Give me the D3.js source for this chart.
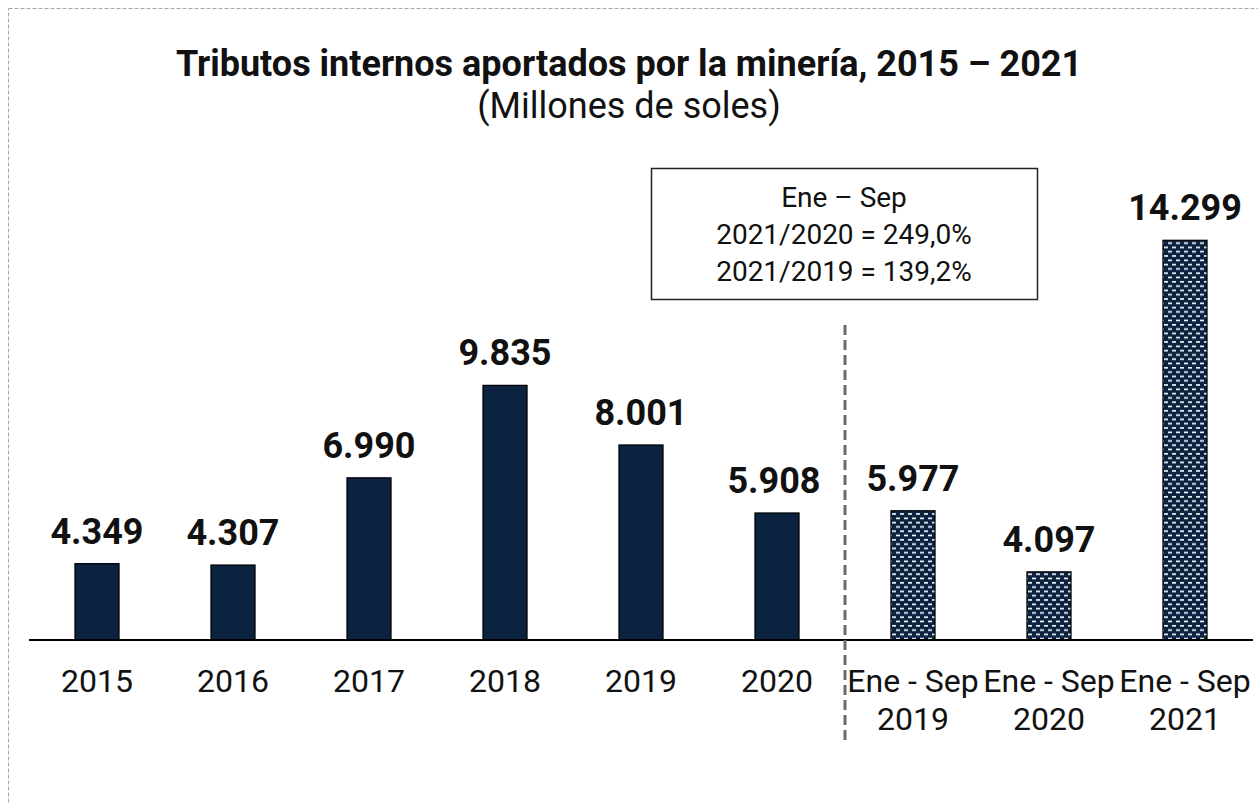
<!DOCTYPE html>
<html>
<head>
<meta charset="utf-8">
<script src="https://cdn.jsdelivr.net/npm/d3@7"></script>
<style>
  body { margin: 0; background: #fff; }
  svg { font-family: Roboto, sans-serif; }
</style>
</head>
<body>
<div id="chart"></div>
<script>
var width = 1258
var height = 803

// data
var categories = ['2015', '2016', '2017', '2018', '2019', '2020', 'Ene - Sep|2019', 'Ene - Sep|2020', 'Ene - Sep|2021']
var values = [4349, 4307, 6990, 9835, 8001, 5908, 5977, 4097, 14299]
var valueLabels = ['4.349', '4.307', '6.990', '9.835', '8.001', '5.908', '5.977', '4.097', '14.299']
var partialYear = [false, false, false, false, false, false, true, true, true]
var noteLines = ['Ene – Sep', '2021/2020 = 249,0%', '2021/2019 = 139,2%']

var navy = '#0b2240'

var svg = d3.select('#chart')
  .append('svg')
  .attr('width', width)
  .attr('height', height)

// hatch pattern for the Ene-Sep bars
var pat = svg.append('defs')
  .append('pattern')
  .attr('id', 'brick')
  .attr('patternUnits', 'userSpaceOnUse')
  .attr('width', 8)
  .attr('height', 8.6)
pat.append('rect').attr('width', 8).attr('height', 8.6).attr('fill', navy)
pat.append('rect').attr('x', 0).attr('y', 1.5).attr('width', 4).attr('height', 1.6).attr('fill', '#fff')
pat.append('rect').attr('x', 4).attr('y', 5.8).attr('width', 4).attr('height', 1.6).attr('fill', '#fff')

// outer dashed frame
svg.append('rect')
  .attr('x', 8.5)
  .attr('y', 8.5)
  .attr('width', width + 20)
  .attr('height', height + 20)
  .attr('fill', 'none')
  .style('stroke', '#a6a6a6')
  .style('stroke-width', 1)
  .style('stroke-dasharray', '4,2')

// titles
svg.append('text')
  .attr('x', 629)
  .attr('y', 76)
  .attr('text-anchor', 'middle')
  .style('font-weight', 'bold')
  .style('font-size', '36px')
  .style('fill', '#111')
  .text('Tributos internos aportados por la minería, 2015 – 2021')

svg.append('text')
  .attr('x', 629)
  .attr('y', 118)
  .attr('text-anchor', 'middle')
  .style('font-size', '36px')
  .style('fill', '#111')
  .text('(Millones de soles)')

var xScale = d3.scaleBand()
  .domain(categories)
  .range([29, 1253])
  .paddingInner(0.676)
  .paddingOuter(0.338)

var yScale = d3.scaleLinear()
  .domain([2000, 16000])
  .range([640, 185])

// bars
svg.append('g')
  .selectAll('rect')
  .data(values)
  .enter()
  .append('rect')
  .attr('x', (d, i) => xScale(categories[i]))
  .attr('y', d => yScale(d))
  .attr('width', xScale.bandwidth())
  .attr('height', d => yScale(2000) - yScale(d))
  .attr('fill', (d, i) => partialYear[i] ? 'url(#brick)' : navy)
  .style('stroke', '#000')
  .style('stroke-width', 1.2)

// value labels
svg.append('g')
  .selectAll('text')
  .data(values)
  .enter()
  .append('text')
  .attr('x', (d, i) => xScale(categories[i]) + xScale.bandwidth() / 2 + (i == 5 ? -3 : 0))
  .attr('y', d => yScale(d) - 20)
  .attr('text-anchor', 'middle')
  .style('font-weight', 'bold')
  .style('font-size', '36px')
  .style('fill', '#111')
  .text((d, i) => valueLabels[i])

// x axis
var xAxis = d3.axisBottom(xScale).tickSize(0).tickPadding(0)
var gx = svg.append('g')
  .attr('transform', `translate(0,${yScale(2000)})`)
  .call(xAxis)
gx.select('.domain').remove()
gx.selectAll('.tick text').remove()
gx.selectAll('.tick').each(function(d) {
  var parts = d.split('|')
  var t = d3.select(this).append('text')
    .attr('text-anchor', 'middle')
    .attr('fill', '#111')
    .style('font-size', '32px')
    .style('font-family', 'Roboto, sans-serif')
  parts.forEach((p, k) => {
    t.append('tspan').attr('x', 0).attr('y', 52 + k * 38).text(p)
  })
})

svg.append('line')
  .attr('x1', 29)
  .attr('x2', 1253)
  .attr('y1', yScale(2000))
  .attr('y2', yScale(2000))
  .style('stroke', '#000')
  .style('stroke-width', 2)

// separator between full years and Ene-Sep
var sepX = (xScale('2020') + xScale.bandwidth() + xScale(categories[6])) / 2
svg.append('line')
  .attr('x1', sepX)
  .attr('x2', sepX)
  .attr('y1', 325)
  .attr('y2', 742)
  .style('stroke', '#6b6b6b')
  .style('stroke-width', 3)
  .style('stroke-dasharray', '10,5')

// note box
svg.append('rect')
  .attr('x', 651.5)
  .attr('y', 168.5)
  .attr('width', 386)
  .attr('height', 131)
  .attr('fill', '#fff')
  .style('stroke', '#222')
  .style('stroke-width', 1.5)

svg.append('g')
  .selectAll('text')
  .data(noteLines)
  .enter()
  .append('text')
  .attr('x', 844)
  .attr('y', (d, i) => 207 + i * 37)
  .attr('text-anchor', 'middle')
  .style('font-size', '28px')
  .style('fill', '#111')
  .text(d => d)
</script>
</body>
</html>
